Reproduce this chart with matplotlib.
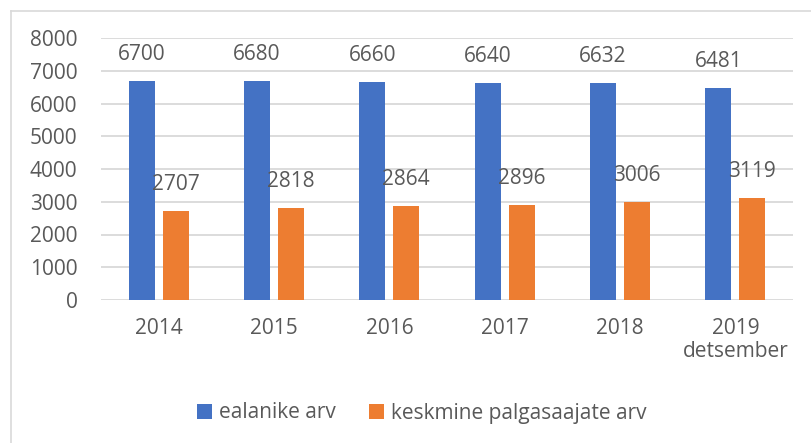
import numpy as np
import matplotlib
matplotlib.use("Agg")
import matplotlib.pyplot as plt
from matplotlib.lines import Line2D

# Andmed
aastad = ["2014", "2015", "2016", "2017", "2018", "2019\ndetsember"]
ealanike_arv = [6700, 6680, 6660, 6640, 6632, 6481]
palgasaajate_arv = [2707, 2818, 2864, 2896, 3006, 3119]
seeriad = ["ealanike arv", "keskmine palgasaajate arv"]

SININE = "#4472C4"
ORANZ = "#ED7D31"
HALL_TEKST = "#595959"
HALL_JOON = "#D9D9D9"

plt.rcParams["font.family"] = ["Open Sans", "DejaVu Sans"]
FS = 15

fig = plt.figure(figsize=(8.11, 4.43), dpi=100)
ax = fig.add_axes([101 / 811, 1 - 300 / 443, (793 - 101) / 811, (300 - 38) / 443])

x = np.arange(len(aastad))
laius = 0.2255
nihe = 0.147

tulbad1 = ax.bar(x - nihe, ealanike_arv, laius, color=SININE, label=seeriad[0], zorder=3)
tulbad2 = ax.bar(x + nihe, palgasaajate_arv, laius, color=ORANZ, label=seeriad[1], zorder=3)

# Väärtused tulpade kohal
for tulbad in (tulbad1, tulbad2):
    for r in tulbad:
        ax.annotate(f"{r.get_height():.0f}",
                    (r.get_x() + r.get_width() / 2, r.get_height()),
                    xytext=(0, 19), textcoords="offset points",
                    ha="center", va="center", fontsize=FS, color=HALL_TEKST, zorder=4)

ax.set_xlim(-0.5, len(aastad) - 0.5)
ax.set_ylim(0, 8000)
ax.set_yticks(np.arange(0, 8001, 1000))
ax.set_xticks(x)
ax.set_xticklabels(aastad, linespacing=1.15)
ax.tick_params(axis="both", length=0, labelsize=FS, colors=HALL_TEKST)
ax.tick_params(axis="y", pad=17)
ax.tick_params(axis="x", pad=13)

ax.yaxis.grid(True, color=HALL_JOON, linewidth=1.3, zorder=0)
for s in ax.spines.values():
    s.set_visible(False)

# Diagrammi raam (vasak ja ülemine serv)
fig.add_artist(Line2D([11 / 811, 11 / 811], [0, 1 - 11 / 443], transform=fig.transFigure,
                      color=HALL_JOON, linewidth=1.2))
fig.add_artist(Line2D([11 / 811, 1], [1 - 11 / 443, 1 - 11 / 443], transform=fig.transFigure,
                      color=HALL_JOON, linewidth=1.2))

fig.legend(loc="center", bbox_to_anchor=(422 / 811, 1 - 413 / 443), ncol=2,
           frameon=False, fontsize=FS, labelcolor=HALL_TEKST,
           handlelength=0.7, handleheight=0.7, handletextpad=0.35, columnspacing=1.6)

fig.savefig("out.png", dpi=100)
